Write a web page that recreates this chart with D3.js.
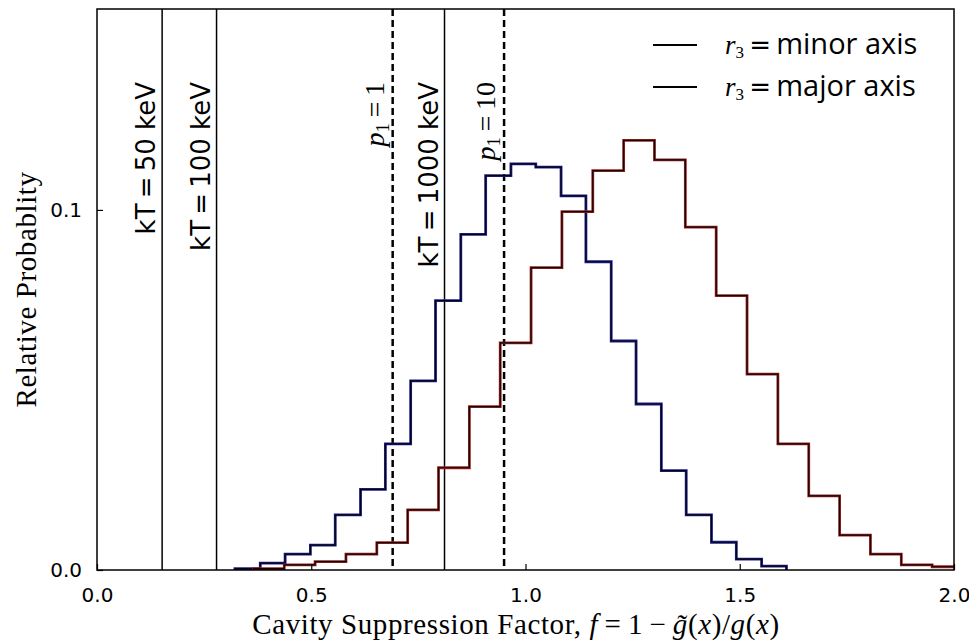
<!DOCTYPE html>
<html>
<head>
<meta charset="utf-8">
<script src="https://cdn.jsdelivr.net/npm/d3@7"></script>
<style>
  body { margin: 0; background: #fff; }
  text { fill: #000; }
</style>
</head>
<body>
<div id="chart"></div>
<script>
// histogram bin edges (data units) and heights
var minorEdges = [0.322, 0.381, 0.439, 0.498, 0.556, 0.615, 0.673, 0.732, 0.790, 0.849, 0.907,
    0.966, 1.024, 1.083, 1.141, 1.200, 1.258, 1.317, 1.375, 1.434, 1.492, 1.551, 1.609]
var minorProb = [0.0004, 0.0019, 0.0044, 0.0069, 0.0153, 0.0224, 0.0350, 0.0525, 0.0748, 0.0932, 0.1095,
    0.1128, 0.1119, 0.1039, 0.0856, 0.0636, 0.0461, 0.0276, 0.0153, 0.0077, 0.0030, 0.0011]

var majorEdges = [0.365, 0.437, 0.509, 0.581, 0.653, 0.725, 0.797, 0.869, 0.941, 1.013, 1.085, 1.157,
    1.229, 1.301, 1.373, 1.445, 1.517, 1.589, 1.661, 1.733, 1.805, 1.877, 1.949, 2.021]
var majorProb = [0.0004, 0.0014, 0.0023, 0.0044, 0.0076, 0.0167, 0.0284, 0.0454, 0.0631, 0.0840, 0.0995, 0.1109,
    0.1193, 0.1139, 0.0952, 0.0762, 0.0544, 0.0350, 0.0206, 0.0097, 0.0044, 0.0014, 0.0009]

var kTLines = [0.152, 0.279, 0.811]
var kTLabels = ['50', '100', '1000']
var p1Lines = [0.690, 0.950]
var p1Labels = ['1', '10']

var xTicks = [0, 0.5, 1.0, 1.5, 2.0]
var yTicks = [0, 0.1]

var width = 969
var height = 641
var plotL = 97, plotR = 954, plotT = 9, plotB = 570

var svg = d3.select('#chart')
    .append('svg')
    .attr('width', width)
    .attr('height', height)

var xScale = d3.scaleLinear()
    .domain([0, 2])
    .range([plotL, plotR])

var yScale = d3.scaleLinear()
    .domain([0, 0.1558])
    .range([plotB, plotT])

svg.append('clipPath')
    .attr('id', 'plotClip')
    .append('rect')
    .attr('x', plotL)
    .attr('y', plotT)
    .attr('width', plotR - plotL)
    .attr('height', plotB - plotT)

// step outline like matplotlib histtype='step'
function stepPoints(edges, vals) {
    var pts = [[edges[0], 0]]
    vals.forEach(function (v, i) { pts.push([edges[i], v]) })
    pts.push([edges[edges.length - 1], vals[vals.length - 1]])
    pts.push([edges[edges.length - 1], 0])
    return pts
}

var stepLine = d3.line()
    .x((d) => xScale(d[0]))
    .y((d) => yScale(d[1]))
    .curve(d3.curveStepAfter)

var plot = svg.append('g').attr('clip-path', 'url(#plotClip)')

// vertical reference lines
plot.selectAll('.kt')
    .data(kTLines)
    .enter()
    .append('line')
    .attr('x1', (d) => xScale(d))
    .attr('x2', (d) => xScale(d))
    .attr('y1', plotT)
    .attr('y2', plotB)
    .attr('stroke', '#000')
    .attr('stroke-width', 1.5)

plot.selectAll('.p1')
    .data(p1Lines)
    .enter()
    .append('line')
    .attr('x1', (d) => xScale(d))
    .attr('x2', (d) => xScale(d))
    .attr('y1', plotT)
    .attr('y2', plotB)
    .attr('stroke', '#000')
    .attr('stroke-width', 2.5)
    .attr('stroke-dasharray', '7,4')

var series = [
    { edges: minorEdges, vals: minorProb, color: '#1e1e8c' },
    { edges: majorEdges, vals: majorProb, color: '#9a2222' }
]

series.forEach(function (s) {
    var pts = stepPoints(s.edges, s.vals)
    plot.append('path')
        .attr('d', stepLine(pts))
        .attr('fill', 'none')
        .attr('stroke', s.color)
        .attr('stroke-width', 2.8)
    plot.append('path')
        .attr('d', stepLine(pts))
        .attr('fill', 'none')
        .attr('stroke', '#000')
        .attr('stroke-opacity', 0.9)
        .attr('stroke-width', 1.2)
})

// vertical labels
kTLines.forEach(function (v, i) {
    svg.append('text')
        .attr('transform', 'translate(' + (xScale(v) - 7) + ',82)rotate(-90)')
        .attr('text-anchor', 'end')
        .attr('font-family', 'DejaVu Sans')
        .attr('font-size', 26)
        .text('kT\u2009=\u2009' + kTLabels[i] + ' keV')
})

p1Lines.forEach(function (v, i) {
    var t = svg.append('text')
        .attr('transform', 'translate(' + (xScale(v) - 9) + ',82)rotate(-90)')
        .attr('text-anchor', 'end')
        .attr('font-family', 'Liberation Serif')
        .attr('font-size', 28)
    t.append('tspan').attr('font-style', 'italic').text('p')
    t.append('tspan').attr('font-size', 19).attr('dy', 5).text('1')
    t.append('tspan').attr('dy', -5).text('\u2009=\u2009' + p1Labels[i])
})

// frame
svg.append('rect')
    .attr('x', plotL)
    .attr('y', plotT)
    .attr('width', plotR - plotL)
    .attr('height', plotB - plotT)
    .attr('fill', 'none')
    .attr('stroke', '#000')
    .attr('stroke-width', 1.5)

var xAxis = d3.axisBottom(xScale)
    .tickValues(xTicks)
    .tickFormat(d3.format('.1f'))
    .tickSizeInner(-6)
    .tickSizeOuter(0)
    .tickPadding(18)

var yAxis = d3.axisLeft(yScale)
    .tickValues(yTicks)
    .tickFormat(d3.format('.1f'))
    .tickSizeInner(-6)
    .tickSizeOuter(0)
    .tickPadding(15)

var gx = svg.append('g')
    .attr('transform', 'translate(0,' + plotB + ')')
    .call(xAxis)
var gy = svg.append('g')
    .attr('transform', 'translate(' + plotL + ',0)')
    .call(yAxis)

;[gx, gy].forEach(function (g) {
    g.attr('font-size', null).attr('font-family', null)
    g.select('.domain').remove()
    g.selectAll('.tick line').attr('stroke', '#000').attr('stroke-width', 1.2)
    g.selectAll('.tick text')
        .attr('font-family', 'DejaVu Sans')
        .attr('font-size', 20)
        .attr('fill', '#000')
})

// axis titles
svg.append('text')
    .attr('transform', 'translate(36,' + ((plotT + plotB) / 2) + ')rotate(-90)')
    .attr('text-anchor', 'middle')
    .attr('font-family', 'Liberation Serif')
    .attr('font-size', 29)
    .attr('letter-spacing', 0.6)
    .text('Relative Probablity')

var xt = svg.append('text')
    .attr('x', 516)
    .attr('y', 634)
    .attr('text-anchor', 'middle')
    .attr('font-family', 'Liberation Serif')
    .attr('font-size', 29)
    .attr('letter-spacing', 0.6)
xt.append('tspan').text('Cavity Suppression Factor, ')
xt.append('tspan').attr('font-style', 'italic').text('f')
xt.append('tspan').text('\u2009=\u20091\u2009\u2212\u2009')
xt.append('tspan').attr('font-style', 'italic').text('g\u0303')
xt.append('tspan').text('(')
xt.append('tspan').attr('font-style', 'italic').text('x')
xt.append('tspan').text(')/')
xt.append('tspan').attr('font-style', 'italic').text('g')
xt.append('tspan').text('(')
xt.append('tspan').attr('font-style', 'italic').text('x')
xt.append('tspan').text(')')

// legend
var legendNames = ['minor axis', 'major axis']
var legend = svg.append('g')
legendNames.forEach(function (name, i) {
    var y = 45 + i * 42
    legend.append('line')
        .attr('x1', 653).attr('x2', 697)
        .attr('y1', y).attr('y2', y)
        .attr('stroke', '#000')
        .attr('stroke-width', 2)
    var t = legend.append('text')
        .attr('x', 725)
        .attr('y', y + 9)
    t.append('tspan')
        .attr('font-family', 'Liberation Serif')
        .attr('font-style', 'italic')
        .attr('font-size', 27)
        .text('r')
    t.append('tspan')
        .attr('font-family', 'Liberation Serif')
        .attr('font-size', 17)
        .attr('dy', 4)
        .text('3')
    t.append('tspan')
        .attr('font-family', 'DejaVu Sans')
        .attr('font-size', 26)
        .attr('dy', -4)
        .text('\u2009=\u2009')
    t.append('tspan')
        .attr('font-family', 'Open Sans')
        .attr('font-size', 29)
        .text(name)
})
</script>
</body>
</html>
